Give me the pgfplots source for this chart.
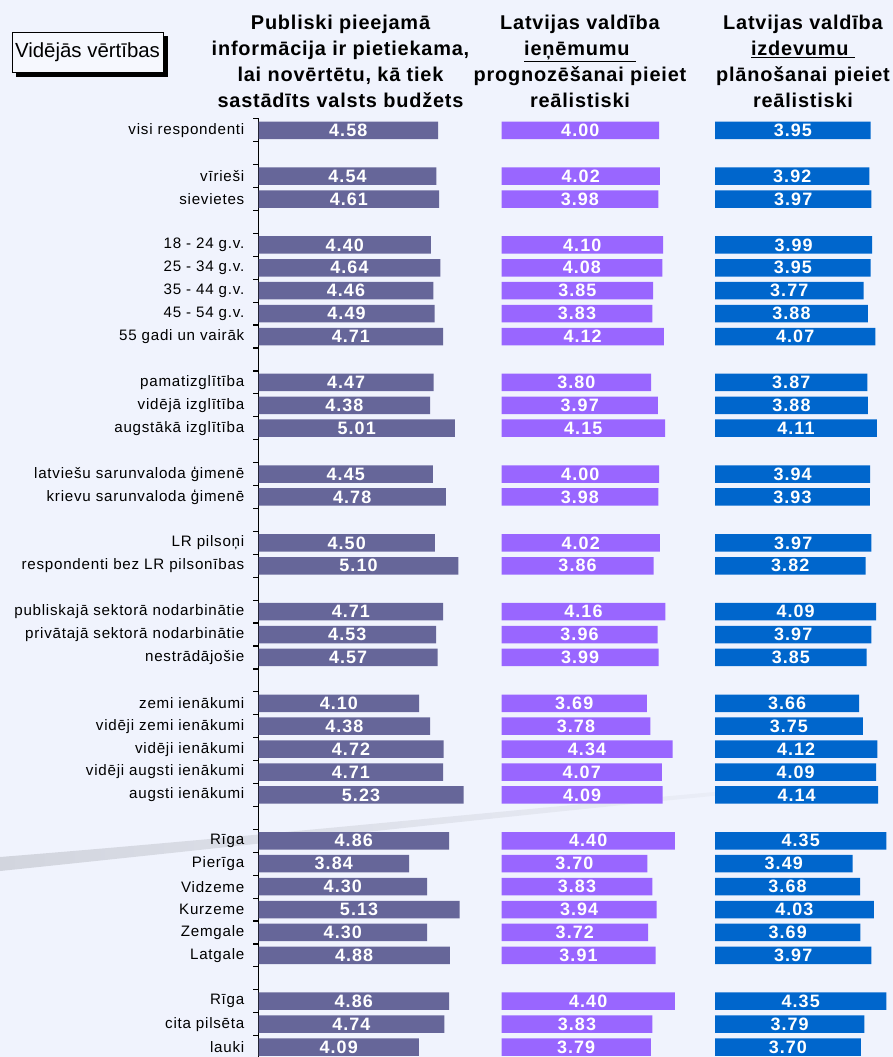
\documentclass[border=0pt]{standalone}
\usepackage{pgfplots}
\pgfplotsset{compat=1.18}
\usepackage{pgfplotstable}
\usepackage{fontspec}
\setmainfont{Liberation Sans}

\definecolor{bg}{RGB}{240,243,253}
\definecolor{barA}{RGB}{102,102,153}
\definecolor{barB}{RGB}{153,102,255}
\definecolor{barC}{RGB}{0,102,204}
\definecolor{swoosh}{RGB}{210,213,222}

% idx = row slot (empty slots separate the groups)
\pgfplotstableread{
idx a    b    c
0   4.58 4.00 3.95
2   4.54 4.02 3.92
3   4.61 3.98 3.97
5   4.40 4.10 3.99
6   4.64 4.08 3.95
7   4.46 3.85 3.77
8   4.49 3.83 3.88
9   4.71 4.12 4.07
11  4.47 3.80 3.87
12  4.38 3.97 3.88
13  5.01 4.15 4.11
15  4.45 4.00 3.94
16  4.78 3.98 3.93
18  4.50 4.02 3.97
19  5.10 3.86 3.82
21  4.71 4.16 4.09
22  4.53 3.96 3.97
23  4.57 3.99 3.85
25  4.10 3.69 3.66
26  4.38 3.78 3.75
27  4.72 4.34 4.12
28  4.71 4.07 4.09
29  5.23 4.09 4.14
31  4.86 4.40 4.35
32  3.84 3.70 3.49
33  4.30 3.83 3.68
34  5.13 3.94 4.03
35  4.30 3.72 3.69
36  4.88 3.91 3.97
38  4.86 4.40 4.35
39  4.74 3.83 3.79
40  4.09 3.79 3.70
}\data

\pgfplotsset{
  panel/.style={
    y dir=reverse, y=22.92bp,
    ymin=-0.5, ymax=40.5, xmin=0, xmax=5.5,
    enlargelimits=false, clip=false,
    anchor=north west,
  },
  vals/.style={
    draw=none, mark=none, nodes near coords,
    point meta=explicit symbolic,
    every node near coord/.append style={anchor=center, text=white, inner sep=0pt,
      font=\fontsize{18}{18}\selectfont\bfseries\addfontfeature{LetterSpace=6}},
  },
}

\begin{document}
\begin{tikzpicture}
\useasboundingbox (0,0) rectangle (893bp,-1057bp);
\fill[bg] (0,0) rectangle (893bp,-1057bp);

% grey swoosh behind the bars
\shade[left color=swoosh, right color=bg]
  (0,-857bp) .. controls (300bp,-833bp) and (600bp,-800bp) .. (893bp,-777bp)
  -- (893bp,-779bp) .. controls (600bp,-805bp) and (300bp,-840bp) .. (0,-871bp) -- cycle;

% legend-like box
\fill[black] (16bp,-36bp) rectangle (168bp,-77bp);
\draw[fill=bg!60!white, line width=1bp] (12bp,-32bp) rectangle (163bp,-72bp);
\node[font=\fontsize{20.5}{20.5}\selectfont] at (87.5bp,-52bp) {Vidējās vērtības};

% column headers
\node[anchor=north, align=center, inner sep=0pt,
  font=\fontsize{20}{26}\selectfont\bfseries\addfontfeature{LetterSpace=4}]
  at (340.5bp,-15bp) {Publiski pieejamā\\informācija ir pietiekama,\\lai novērtētu, kā tiek\\sastādīts valsts budžets};
\node[anchor=north, align=center, inner sep=0pt,
  font=\fontsize{20}{26}\selectfont\bfseries\addfontfeature{LetterSpace=4}]
  at (580bp,-15bp) {Latvijas valdība\\\underline{ieņēmumu\ }\\prognozēšanai pieiet\\reālistiski};
\node[anchor=north, align=center, inner sep=0pt,
  font=\fontsize{20}{26}\selectfont\bfseries\addfontfeature{LetterSpace=4}]
  at (803bp,-15bp) {Latvijas valdība\\\underline{izdevumu\ }\\plānošanai pieiet\\reālistiski};

% panel 1 with category labels
\begin{axis}[panel, at={(258.5bp,-118.8bp)}, x=39.2bp,
  axis x line=none, axis y line*=left,
  axis line style={-, line width=1.3bp},
  ytick={0,2,3,5,6,7,8,9,11,12,13,15,16,18,19,21,22,23,25,26,27,28,29,31,32,33,34,35,36,38,39,40},
  yticklabels={visi respondenti, vīrieši, sievietes, 18 - 24 g.v., 25 - 34 g.v., 35 - 44 g.v., 45 - 54 g.v., 55 gadi un vairāk,
    pamatizglītība, vidējā izglītība, augstākā izglītība,
    latviešu sarunvaloda ģimenē, krievu sarunvaloda ģimenē,
    LR pilsoņi, respondenti bez LR pilsonības,
    publiskajā sektorā nodarbinātie, privātajā sektorā nodarbinātie, nestrādājošie,
    zemi ienākumi, vidēji zemi ienākumi, vidēji ienākumi, vidēji augsti ienākumi, augsti ienākumi,
    Rīga, Pierīga, Vidzeme, Kurzeme, Zemgale, Latgale,
    Rīga, cita pilsēta, lauki},
  minor ytick={-0.5,0.5,...,40.5},
  major tick length=0pt, minor tick length=5bp,
  tick align=outside, ytick pos=left,
  minor tick style={black, line width=1.2bp},
  yticklabel style={anchor=east, inner sep=0pt, xshift=-14bp,
    font=\fontsize{15.2}{15.2}\selectfont\addfontfeature{LetterSpace=5}},
]
\addplot[xbar, bar width=17.5bp, fill=barA, draw=none] table[x=a, y=idx] {\data};
\addplot[vals] table[x expr=\thisrow{a}/2, y=idx, meta=a] {\data};
\end{axis}

% panel 2
\begin{axis}[panel, at={(501.5bp,-118.8bp)}, x=39.4bp, hide axis]
\addplot[xbar, bar width=17.5bp, fill=barB, draw=none] table[x=b, y=idx] {\data};
\addplot[vals] table[x expr=\thisrow{b}/2, y=idx, meta=b] {\data};
\end{axis}

% panel 3
\begin{axis}[panel, at={(715bp,-118.8bp)}, x=39.4bp, hide axis]
\addplot[xbar, bar width=17.5bp, fill=barC, draw=none] table[x=c, y=idx] {\data};
\addplot[vals] table[x expr=\thisrow{c}/2, y=idx, meta=c] {\data};
\end{axis}
\end{tikzpicture}
\end{document}
